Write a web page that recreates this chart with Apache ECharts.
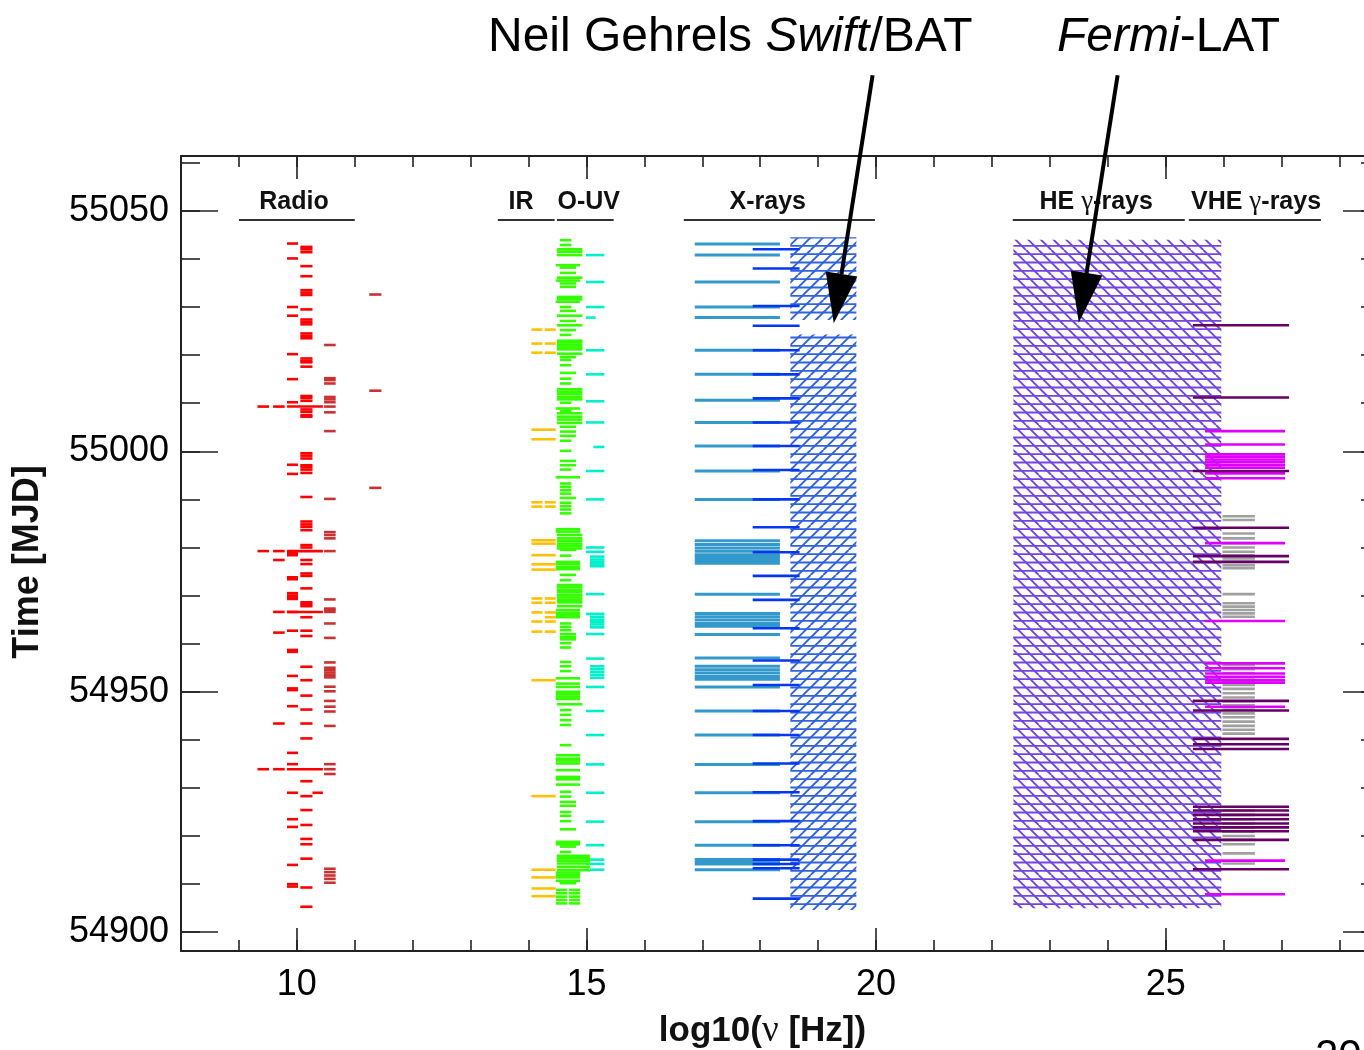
<!DOCTYPE html>
<html><head><meta charset="utf-8">
<script src="https://cdn.jsdelivr.net/npm/echarts@6/dist/echarts.min.js"></script>
<style>html,body{margin:0;padding:0;background:#fff}#c{width:1364px;height:1050px}</style>
</head><body><div id="c"></div>
<script>
// ---------------- axis ticks ----------------
const xMinorTicks = [9,10,11,12,13,14,15,16,17,18,19,20,21,22,23,24,25,26,27,28];
const xMajorTicks = [10,15,20,25];
const yMinorTicks = [54900,54910,54920,54930,54940,54950,54960,54970,54980,54990,55000,55010,55020,55030,55040,55050,55060];
const yMajorTicks = [54900,54950,55000,55050];

// ---------------- band labels (log10 nu spans and label centres) ----------------
const bandNames = ['Radio','IR','O-UV','X-rays','HE γ-rays','VHE γ-rays'];
const bandSpans = [[9.0,11.0],[13.47,14.45],[14.49,15.47],[16.68,19.98],[22.36,25.33],[25.40,27.68]];
const bandCenters = [9.95, 13.87, 15.04, 18.13, 23.80, 26.56];

// ---------------- Radio ----------------
const radioA_nu = [9.83, 10.02];
const radioA_t = [55043.2,55040.1,55030.0,55028.2,55020.2,55015.0,55010.2,54997.2,54995.3,54978.8,54978.4,54973.8,54973.4,54970.5,54970.0,54969.6,54969.3,54966.6,54962.7,54958.7,54958.3,54953.3,54950.7,54950.35,54947.0,54937.3,54934.95,54929.0,54923.5,54921.9,54914.0,54910.0,54909.5];
const radioB_nu = [10.06, 10.27];
const radioB_t = [55042.5,55042.0,55041.4,55038.5,55036.4,55033.5,55033.0,55032.5,55029.5,55027.4,55026.9,55026.4,55024.5,55024.0,55023.5,55019.3,55018.8,55018.5,55017.6,55011.5,55011.1,55010.5,55008.7,55008.2,55007.5,55007.2,54999.6,54999.1,54998.5,54997.1,54996.7,54996.2,54995.5,54990.5,54985.4,54984.8,54984.3,54983.6,54980.5,54980.0,54977.4,54976.55,54974.6,54974.1,54971.5,54968.6,54968.2,54967.8,54965.5,54962.7,54961.6,54955.2,54952.4,54949.2,54946.3,54943.4,54940.3,54931.4,54928.3,54925.4,54922.3,54919.4,54918.3,54915.3,54909.3,54905.3];
const radioC_nu = [10.47, 10.67];
const radioC_t = [55022.1,55015.2,55014.8,55014.1,55011.3,55010.8,55010.2,55009.3,55008.1,55004.2,54990.1,54983.2,54982.6,54981.9,54979.25,54969.2,54967.3,54967.0,54966.6,54964.2,54961.2,54956.1,54955.0,54954.5,54954.0,54953.5,54953.0,54951.05,54950.1,54948.1,54946.9,54945.9,54942.9,54934.95,54933.9,54932.9,54913.2,54912.5,54911.8,54911.1,54910.3];
const radioD_nu = [11.25, 11.46];
const radioD_t = [55032.6,55012.6,54992.4];
const radioL1_nu = [9.32, 9.52];
const radioL1_t = [55009.3,54979.25,54933.9];
const radioL2_nu = [9.59, 9.79];
const radioL2_t = [55009.3,54979.25,54977.4,54966.6,54962.3,54943.4,54933.9];
const radioSpan_nu = [9.83, 10.45];
const radioSpan_t = [55009.3,54979.25,54966.6,54933.9];
const radioE_nu = [10.27, 10.45];
const radioE_t = [54929.0];

// ---------------- IR ----------------
const irLow_nu = [14.05, 14.24];
const irHigh_nu = [14.28, 14.47];
const irLong_nu = [14.05, 14.47];
const irPair_t = [55025.3,55022.4,55020.5,54989.4,54988.5,54969.4,54968.5,54966.5,54964.6,54962.5];
const irHigh_t = [54965.5];
const irLong_t = [55004.5,55002.5,54981.5,54980.8,54978.4,54976.5,54975.4,54952.4,54928.3,54913.0,54911.4,54909.1,54907.5];

// ---------------- Optical (green) ----------------
const ouvNarrow_nu = [14.54, 14.74];
const ouvNarrow_t = [55043.9,55042.9,55030.0,55024.2,55019.0,55017.9,55015.1,55014.1,55010.1,55008.4,55002.2,55000.1,54996.2,54993.3,54992.6,54991.9,54991.2,54989.3,54988.6,54987.9,54987.1,54978.3,54973.2,54964.2,54963.5,54962.8,54960.1,54959.2,54956.2,54955.3,54954.3,54946.2,54945.2,54944.1,54943.1,54938.9,54929.2,54928.2,54925.0,54924.2,54923.1,54916.7];
const ouvMid_nu = [14.54, 14.82];
const ouvMid_t = [55038.2,55037.1,55034.9,55034.2,55029.2,55027.1,55025.2,55019.6,55016.3,55005.1,55004.1,55003.2,54998.0,54997.1,54990.3,54979.5,54974.3,54962.0,54961.4,54960.9,54927.1,54926.3,54921.4,54917.8,54910.2];
const ouvWide_nu = [14.47, 14.89];
const ouvWide_t = [55038.7,55035.5,55031.1,55008.9,54994.6,54983.8,54983.3,54977.0,54976.6,54976.0,54975.5,54967.0,54966.4,54965.9,54965.5,54952.8,54951.7,54951.0,54950.0,54949.5,54949.0,54948.5,54936.8,54936.1,54935.7,54935.1,54933.7,54932.3,54931.8,54930.7,54918.8,54918.3,54912.4,54911.9,54911.4,54910.7];
const ouvWidest_nu = [14.49, 14.93];
const ouvWidest_t = [55042.0,55041.5,55040.8,55036.1,55032.1,55031.6,55028.2,55026.2,55023.0,55022.6,55022.1,55021.6,55021.2,55020.3,55012.9,55012.4,55011.9,55011.3,55010.8,55007.9,55007.2,55006.6,55005.9,54982.6,54981.9,54981.4,54980.8,54980.3,54979.8,54972.2,54971.7,54971.1,54970.7,54970.1,54969.6,54969.1,54968.6,54967.8,54947.4];
const ouvExt_nu = [14.49, 15.06];
const ouvExt_t = [54915.9,54915.4,54914.9,54914.3,54913.6,54912.9];
const ouvSplitLo_nu = [14.47, 14.67];
const ouvSplitHi_nu = [14.70, 14.89];
const ouvSplit_t = [54908.8,54908.1,54907.4,54906.7,54906.0];

// ---------------- UV (cyan) ----------------
const uv_nu = [14.99, 15.31];
const uv_t = [55040.8,55035.2,55030.0,55021.0,55016.0,55010.4,55006.0,54995.9,54990.0,54980.0,54979.1,54970.3,54966.2,54962.0,54956.9,54951.0,54946.0,54941.0,54934.9,54929.0,54923.0,54918.1,54915.1,54914.2,54913.0];
const uvShortLo_nu = [14.99, 15.16];
const uvShortLo_t = [55027.8];
const uvShortHi_nu = [15.12, 15.31];
const uvShortHi_t = [55000.9];
const uvBlock_nu = [15.06, 15.31];
const uvBlock_t = [54978.1,54977.5,54977.0,54976.5,54976.1,54965.6,54965.0,54964.5,54964.0,54963.4,54955.3,54954.7,54954.1,54953.5,54952.9];

// ---------------- X-rays ----------------
const xrtSoft_nu = [16.87, 18.34];
const xrtSoft_t = [55043.1,55040.8,55035.2,55030.0,55027.8,55021.0,55016.0,55010.6,55006.0,55001.1,54995.9,54990.0,54981.4,54980.6,54979.9,54979.2,54978.5,54977.9,54977.3,54976.7,54970.3,54966.3,54965.6,54964.9,54964.2,54963.6,54961.9,54957.0,54955.3,54954.6,54953.9,54953.2,54952.6,54951.0,54946.0,54941.0,54934.9,54929.0,54923.0,54918.1,54915.1,54914.7,54914.2,54913.0];
const xrtHard_nu = [17.87, 18.68];
const xrtHard_t = [55042.0,55038.0,55030.2,55026.1,55021.0,55016.0,55011.0,55006.0,55001.1,54996.1,54990.0,54984.2,54979.0,54974.1,54969.1,54963.2,54956.5,54951.4,54946.0,54941.0,54935.1,54929.1,54923.1,54918.1,54915.1,54914.2,54913.3,54907.0];
const bat_nu = [18.52, 19.66];
const bat_tStart = [55027.3, 54904.6];
const bat_tEnd = [55044.5, 55024.3];

// ---------------- gamma rays ----------------
const lat_nu = [22.37, 25.96];
const lat_tStart = [54905.0];
const lat_tEnd = [55044.0];
const vheDark_nu = [25.47, 27.13];
const vheDark_t = [55026.2,55011.2,54995.9,54984.1,54978.2,54977.0,54948.1,54946.1,54940.2,54939.1,54938.1,54926.1,54925.3,54924.4,54923.5,54922.6,54921.8,54921.0,54919.2,54913.1];
const vheMag_nu = [25.68, 27.06];
const vheMag_t = [55004.2,55001.4,54999.4,54998.9,54998.3,54997.8,54997.2,54996.6,54995.4,54994.4,54980.9,54964.7,54955.9,54954.9,54953.8,54953.1,54952.4,54951.9,54946.9,54914.9,54907.9];
const vheGray_nu = [25.98, 26.54];
const vheGray_t = [54986.5,54985.7,54982.9,54981.9,54980.9,54980.0,54979.1,54978.4,54977.7,54977.0,54976.3,54975.7,54970.3,54968.4,54967.7,54967.0,54966.3,54965.6,54955.5,54954.7,54953.9,54953.0,54952.2,54951.4,54950.6,54949.7,54948.8,54948.0,54947.2,54946.3,54945.5,54944.7,54943.8,54942.9,54942.1,54941.3,54925.3,54924.4,54923.5,54922.6,54921.8,54920.9,54920.0,54919.2,54918.3,54916.4,54914.3];

// ---------------- annotation arrows [nu0, t0, nu1, t1] ----------------
const arrowAnno = [[19.94, 55078.2, 19.27, 55026.6],[24.17, 55078.2, 23.50, 55026.8]];

// ================= rendering =================
const FONT = '"Liberation Sans", Arial, Helvetica, sans-serif';
const SERIF = '"Liberation Serif", "DejaVu Serif", serif';
const AXC = '#222';

function rows(nu, ts){ return ts.map(t => [nu[0], nu[1], t]); }

function segSeries(name, data, color, h){
  return {
    type:'custom', name, xAxisIndex:0, yAxisIndex:0, silent:true, clip:true,
    data, encode:{x:[0,1], y:2},
    renderItem(params, api){
      const a = api.coord([api.value(0), api.value(2)]);
      const b = api.coord([api.value(1), api.value(2)]);
      return {type:'rect', shape:{x:a[0], y:a[1]-h/2, width:b[0]-a[0], height:h}, style:{fill:color}};
    }
  };
}

function makeHatch(color, forward){
  const W = 38, H = 25;
  const c = document.createElement('canvas');
  c.width = W; c.height = H;
  const ctx = c.getContext('2d');
  ctx.strokeStyle = color; ctx.lineWidth = 1.9;
  for (let k = 0; k < 4; k++){
    const y = 4.17 + k*8.333;
    ctx.beginPath(); ctx.moveTo(-2, y); ctx.lineTo(W+2, y); ctx.stroke();
  }
  const dx = 25.33;
  for (let k = -5; k <= 5; k++){
    const x0 = k*12.667;
    ctx.beginPath();
    if (forward){ ctx.moveTo(x0+dx, 0); ctx.lineTo(x0, H); }
    else { ctx.moveTo(x0, 0); ctx.lineTo(x0+dx, H); }
    ctx.stroke();
  }
  return c;
}

function hatchSeries(name, nu, tS, tE, pattern){
  return {
    type:'custom', name, xAxisIndex:0, yAxisIndex:0, silent:true,
    data: tS.map((s,i) => [nu[0], nu[1], s, tE[i]]),
    encode:{x:[0,1], y:[2,3]},
    renderItem(params, api){
      const a = api.coord([api.value(0), api.value(3)]);
      const b = api.coord([api.value(1), api.value(2)]);
      return {type:'rect', shape:{x:a[0], y:a[1], width:b[0]-a[0], height:b[1]-a[1]},
              style:{fill:{image:pattern, repeat:'repeat'}}};
    }
  };
}

const bandLabelLevel = 55048.1;
function bandRich(name){
  if (name.indexOf('γ') >= 0){
    const parts = name.split('γ');
    return '{b|' + parts[0] + '}{g|γ}{b|' + parts[1] + '}';
  }
  return '{b|' + name + '}';
}
const bandSeries = {
  type:'custom', name:'bands', xAxisIndex:0, yAxisIndex:0, silent:true,
  data: bandSpans.map((s,i) => [s[0], s[1], bandLabelLevel, bandCenters[i]]),
  encode:{x:[0,1], y:2},
  renderItem(params, api){
    const a = api.coord([api.value(0), api.value(2)]);
    const b = api.coord([api.value(1), api.value(2)]);
    const c = api.coord([api.value(3), api.value(2)]);
    return {type:'group', children:[
      {type:'line', shape:{x1:a[0], y1:a[1], x2:b[0], y2:b[1]}, style:{stroke:'#333', lineWidth:2}},
      {type:'text', style:{text: bandRich(bandNames[params.dataIndex]), x:c[0], y:a[1]-18,
        align:'center', verticalAlign:'middle',
        rich:{ b:{fontFamily:FONT, fontWeight:'bold', fontSize:25, fill:'#111'},
               g:{fontFamily:SERIF, fontSize:27, fill:'#111'} }}}
    ]};
  }
};

const arrowSeries = {
  type:'custom', name:'arrows', xAxisIndex:0, yAxisIndex:0, silent:true, clip:false,
  data: arrowAnno, encode:{x:[0,2], y:[1,3]},
  renderItem(params, api){
    const p0 = api.coord([api.value(0), api.value(1)]);
    const p1 = api.coord([api.value(2), api.value(3)]);
    const dx = p1[0]-p0[0], dy = p1[1]-p0[1], L = Math.hypot(dx,dy);
    const ux = dx/L, uy = dy/L, hl = 50, hw = 16;
    const bx = p1[0]-ux*hl, by = p1[1]-uy*hl;
    return {type:'group', children:[
      {type:'line', shape:{x1:p0[0], y1:p0[1], x2:bx, y2:by}, style:{stroke:'#000', lineWidth:4}},
      {type:'polygon', shape:{points:[[p1[0],p1[1]],[bx-uy*hw, by+ux*hw],[bx+uy*hw, by-ux*hw]]}, style:{fill:'#000'}}
    ]};
  }
};

const H = 2.6;
const series = [
  hatchSeries('Fermi-LAT', lat_nu, lat_tStart, lat_tEnd, makeHatch('#7344e0', false)),
  hatchSeries('Swift/BAT', bat_nu, bat_tStart, bat_tEnd, makeHatch('#2f62dc', true)),
  segSeries('radioL1', rows(radioL1_nu, radioL1_t), '#ff0000', H),
  segSeries('radioL2', rows(radioL2_nu, radioL2_t), '#ff0000', H),
  segSeries('radioSpan', rows(radioSpan_nu, radioSpan_t), '#ff0000', H),
  segSeries('radioA', rows(radioA_nu, radioA_t), '#ff0000', H),
  segSeries('radioB', rows(radioB_nu, radioB_t), '#ff0000', H),
  segSeries('radioE', rows(radioE_nu, radioE_t), '#ff0000', H),
  segSeries('radioC', rows(radioC_nu, radioC_t), '#c83232', H),
  segSeries('radioD', rows(radioD_nu, radioD_t), '#c83232', H),
  segSeries('irLow', rows(irLow_nu, irPair_t), '#ffc000', H),
  segSeries('irHigh', rows(irHigh_nu, irPair_t.concat(irHigh_t)), '#ffc000', H),
  segSeries('irLong', rows(irLong_nu, irLong_t), '#ffc000', H),
  segSeries('uv', rows(uv_nu, uv_t), '#00f0cc', H),
  segSeries('uvShortLo', rows(uvShortLo_nu, uvShortLo_t), '#00f0cc', H),
  segSeries('uvShortHi', rows(uvShortHi_nu, uvShortHi_t), '#00f0cc', H),
  segSeries('uvBlock', rows(uvBlock_nu, uvBlock_t), '#00f0cc', H),
  segSeries('ouvWidest', rows(ouvWidest_nu, ouvWidest_t), '#33ff00', H),
  segSeries('ouvWide', rows(ouvWide_nu, ouvWide_t), '#33ff00', H),
  segSeries('ouvMid', rows(ouvMid_nu, ouvMid_t), '#33ff00', H),
  segSeries('ouvNarrow', rows(ouvNarrow_nu, ouvNarrow_t), '#33ff00', H),
  segSeries('ouvExt', rows(ouvExt_nu, ouvExt_t), '#33ff00', H),
  segSeries('ouvSplitLo', rows(ouvSplitLo_nu, ouvSplit_t), '#33ff00', H),
  segSeries('ouvSplitHi', rows(ouvSplitHi_nu, ouvSplit_t), '#33ff00', H),
  segSeries('xrtSoft', rows(xrtSoft_nu, xrtSoft_t), '#3399cc', 3),
  segSeries('xrtHard', rows(xrtHard_nu, xrtHard_t), '#0536f0', H),
  segSeries('vheGray', rows(vheGray_nu, vheGray_t), '#a0a0a0', H),
  segSeries('vheMag', rows(vheMag_nu, vheMag_t), '#e000ff', H),
  segSeries('vheDark', rows(vheDark_nu, vheDark_t), '#660066', H),
  bandSeries,
  arrowSeries
];

const X_MIN = 8, X_MAX = 28.7, Y_MIN = 54896.1, Y_MAX = 55061.4;
const lbl = {color:'#000', fontSize:36, fontFamily:FONT, formatter: v => String(v)};
function xAx(pos, ticks, len, showLine, labels, extra){
  return Object.assign({
    type:'value', min:X_MIN, max:X_MAX, position:pos,
    axisLine:{show:showLine, onZero:false, lineStyle:{color:AXC, width:2}},
    axisTick:{show:true, inside:true, length:len, customValues:ticks, lineStyle:{color:AXC, width:1.6}},
    axisLabel: labels ? Object.assign({customValues:ticks, margin:16}, lbl) : {show:false},
    splitLine:{show:false}
  }, extra || {});
}
function yAx(pos, ticks, len, showLine, labels, extra){
  return Object.assign({
    type:'value', min:Y_MIN, max:Y_MAX, position:pos,
    axisLine:{show:showLine, onZero:false, lineStyle:{color:AXC, width:2}},
    axisTick:{show:true, inside:true, length:len, customValues:ticks, lineStyle:{color:AXC, width:1.6}},
    axisLabel: labels ? Object.assign({customValues:ticks, margin:12}, lbl) : {show:false},
    splitLine:{show:false}
  }, extra || {});
}

const option = {
  animation:false,
  backgroundColor:'#ffffff',
  grid:{left:181, top:156, width:1199, height:795, containLabel:false, outerBoundsMode:'none'},
  xAxis:[
    xAx('bottom', xMinorTicks, 11, true, false),
    xAx('bottom', xMajorTicks, 23, false, true, {
      name:'{b|log10(}{s|ν}{b| [Hz])}', nameLocation:'middle', nameGap:62,
      nameTextStyle:{padding:[0,36,0,0], rich:{
        b:{fontFamily:FONT, fontWeight:'bold', fontSize:35, color:'#111'},
        s:{fontFamily:SERIF, fontSize:37, color:'#111'}}}
    }),
    xAx('top', xMinorTicks, 11, true, false),
    xAx('top', xMajorTicks, 23, false, false)
  ],
  yAxis:[
    yAx('left', yMinorTicks, 19, true, false),
    yAx('left', yMajorTicks, 37, false, true, {
      name:'Time [MJD]', nameLocation:'middle', nameGap:135, nameRotate:90,
      nameTextStyle:{fontFamily:FONT, fontWeight:'bold', fontSize:36, color:'#111', padding:[0,17,0,0]}
    }),
    yAx('right', yMinorTicks, 19, true, false),
    yAx('right', yMajorTicks, 37, false, false)
  ],
  series,
  graphic:[
    {type:'text', left:488, top:14, silent:true, style:{text:'{n|Neil Gehrels }{i|Swift}{n|/BAT}',
      rich:{n:{fontFamily:FONT, fontSize:48, fill:'#000'}, i:{fontFamily:FONT, fontSize:48, fontStyle:'italic', fill:'#000'}}}},
    {type:'text', left:1057, top:14, silent:true, style:{text:'{i|Fermi}{n|-LAT}',
      rich:{n:{fontFamily:FONT, fontSize:48, fill:'#000'}, i:{fontFamily:FONT, fontSize:48, fontStyle:'italic', fill:'#000'}}}},
    {type:'text', left:1315, top:1036, silent:true, style:{text:'20', fontFamily:FONT, fontSize:42, fill:'#000'}}
  ]
};

const chart = echarts.init(document.getElementById('c'), null, {renderer:'canvas'});
chart.setOption(option);
</script></body></html>
